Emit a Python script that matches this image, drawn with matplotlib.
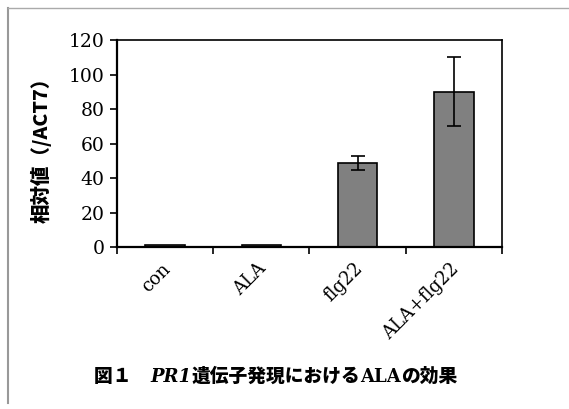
import numpy as np
import matplotlib
matplotlib.use('Agg')
import matplotlib.pyplot as plt
from matplotlib.lines import Line2D
from matplotlib.offsetbox import TextArea, HPacker, AnchoredOffsetbox

# -- Datos --
categories = ['con', 'ALA', 'flg22', 'ALA+flg22']
values = [1.0, 1.0, 48.5, 90.0]
errors = [0.0, 0.0, 4.0, 20.0]
y_ticks = [0, 20, 40, 60, 80, 100, 120]

serif = 'DejaVu Serif'
jp = 'Noto Sans CJK JP'

fig = plt.figure(figsize=(5.69, 4.09), dpi=100)
ax = fig.add_axes([0.2056, 0.396, 0.6766, 0.506])

x = np.arange(len(categories))
ax.bar(x, values, width=0.41, color='#808080', edgecolor='black', linewidth=1.2, zorder=2)
ax.errorbar(x[2:], values[2:], yerr=errors[2:], fmt='none', ecolor='black',
            elinewidth=1.2, capsize=5, capthick=1.2, zorder=3)

ax.set_xlim(-0.5, len(categories) - 0.5)
ax.set_ylim(0, 120)
ax.set_yticks(y_ticks)
ax.set_yticklabels([str(v) for v in y_ticks], fontfamily=serif, fontsize=13.5)
ax.tick_params(axis='y', direction='out', length=5, width=1.2, pad=4)

# ticks en los limites de categoria, etiquetas en el centro
ax.set_xticks(np.arange(len(categories) + 1) - 0.5)
ax.set_xticklabels([])
ax.tick_params(axis='x', direction='out', length=5, width=1.2)
for i, c in enumerate(categories):
    ax.annotate(c, xy=(i, 0), xycoords=('data', 'axes fraction'),
                xytext=(-3, -9), textcoords='offset points',
                rotation=45, ha='right', va='top', rotation_mode='anchor',
                fontfamily=serif, fontsize=13)

for s in ax.spines.values():
    s.set_linewidth(1.2)
ax.spines['left'].set_linewidth(1.6)
ax.spines['bottom'].set_linewidth(1.6)

fig.text(0.072, 0.645, '相対値（/ACT7）', rotation=90, ha='center', va='center',
         family=[jp, 'DejaVu Sans'], fontweight='black', fontsize=14)

# Titulo con partes de distinto estilo
parts = [
    ('図１　', dict(family=jp, fontweight='black', fontsize=13.5)),
    ('PR1', dict(family=serif, fontweight='bold', fontstyle='italic', fontsize=13)),
    ('遺伝子発現における', dict(family=jp, fontweight='black', fontsize=13.5)),
    ('ALA', dict(family=serif, fontweight='bold', fontsize=13)),
    ('の効果', dict(family=jp, fontweight='black', fontsize=13.5)),
]
boxes = [TextArea(t, textprops=dict(color='black', **p)) for t, p in parts]
pack = HPacker(children=boxes, align='baseline', pad=0, sep=0)
anch = AnchoredOffsetbox(loc='center', child=pack, pad=0, frameon=False,
                         bbox_to_anchor=(0.484, 0.08), bbox_transform=fig.transFigure,
                         borderpad=0)
fig.add_artist(anch)

# marco gris parcial
fig.add_artist(Line2D([8 / 569, 8 / 569], [1 - 8 / 409, 1 - 403 / 409],
                      transform=fig.transFigure, color='#999999', linewidth=1.5))
fig.add_artist(Line2D([8 / 569, 1.0], [1 - 8 / 409, 1 - 8 / 409],
                      transform=fig.transFigure, color='#aaaaaa', linewidth=1.0))

fig.savefig('out.png', dpi=100)
